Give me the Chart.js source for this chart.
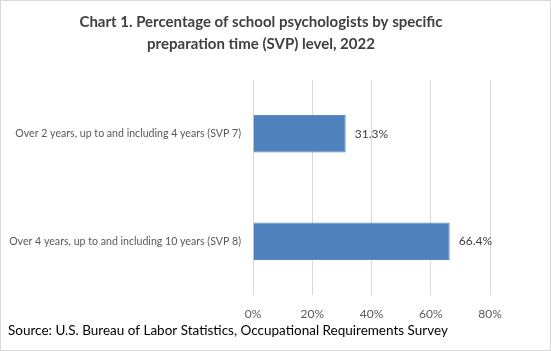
<!DOCTYPE html>
<html>
<head>
<meta charset="utf-8">
<script src="https://cdn.jsdelivr.net/npm/chart.js@4/dist/chart.umd.min.js"></script>
<style>
  html, body { margin: 0; padding: 0; background: #fff; }
  #wrap { width: 551px; height: 351px; }
</style>
</head>
<body>
<div id="wrap"><canvas id="c" width="551" height="351"></canvas></div>
<script>
const titleLines = [
    "Chart 1. Percentage of school psychologists by specific",
    "preparation time (SVP) level, 2022"
];
const source = "Source: U.S. Bureau of Labor Statistics, Occupational Requirements Survey";

const categories = [
    "Over 2 years, up to and including 4 years (SVP 7)",
    "Over 4 years, up to and including 10 years (SVP 8)"
];
const percents = [31.3, 66.4];

const xTicks = [0, 20, 40, 60, 80];

const FONT = "Lato, 'Open Sans', sans-serif";

// frame, title and source line
const chrome = {
    id: "chrome",
    afterDraw(chart) {
        const ctx = chart.ctx;
        ctx.save();
        ctx.strokeStyle = "#d9d9d9";
        ctx.lineWidth = 1;
        ctx.strokeRect(0.5, 0.5, chart.width - 1, chart.height - 1);

        ctx.fillStyle = "#404040";
        ctx.font = "bold 15px " + FONT;
        ctx.textAlign = "center";
        ctx.textBaseline = "middle";
        ctx.fillText(titleLines[0], 261, 22);
        ctx.fillText(titleLines[1], 261, 44);

        ctx.fillStyle = "#000";
        ctx.font = "13.5px " + FONT;
        ctx.textAlign = "left";
        ctx.fillText(source, 8, 331);
        ctx.restore();
    }
};

// value labels at the end of each bar
const barLabels = {
    id: "barLabels",
    afterDatasetsDraw(chart) {
        const ctx = chart.ctx;
        const meta = chart.getDatasetMeta(0);
        ctx.save();
        ctx.fillStyle = "#404040";
        ctx.font = "12px " + FONT;
        ctx.textAlign = "left";
        ctx.textBaseline = "middle";
        meta.data.forEach((bar, i) => {
            ctx.fillText(percents[i].toFixed(1) + "%", bar.x + 9, bar.y);
        });
        ctx.restore();
    }
};

new Chart(document.getElementById("c"), {
    type: "bar",
    data: {
        labels: categories,
        datasets: [{
            data: percents,
            backgroundColor: "#4f81bd",
            borderColor: "#5a8ac6",
            borderWidth: 1,
            categoryPercentage: 0.7,
            barPercentage: 0.5
        }]
    },
    options: {
        indexAxis: "y",
        responsive: false,
        animation: false,
        layout: { padding: { top: 80, left: 8, right: 61, bottom: 0 } },
        plugins: {
            legend: { display: false },
            tooltip: { enabled: false }
        },
        scales: {
            x: {
                min: xTicks[0],
                max: xTicks[xTicks.length - 1],
                afterBuildTicks: (s) => { s.ticks = xTicks.map(v => ({ value: v })); },
                afterFit: (s) => { s.height = 56; },
                grid: { color: "#d9d9d9", drawTicks: false },
                border: { display: false },
                ticks: {
                    padding: 12,
                    color: "#595959",
                    font: { family: FONT, size: 12 },
                    callback: (v) => v + "%"
                }
            },
            y: {
                afterFit: (s) => { s.width = 245; },
                grid: { display: false, drawTicks: false },
                border: { display: false },
                ticks: {
                    padding: 12,
                    color: "#595959",
                    font: { family: FONT, size: 10.6 }
                }
            }
        }
    },
    plugins: [chrome, barLabels]
});
</script>
</body>
</html>
